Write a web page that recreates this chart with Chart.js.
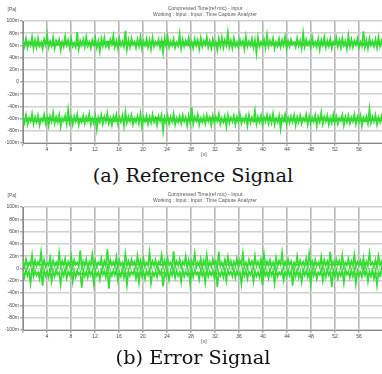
<!DOCTYPE html>
<html>
<head>
<meta charset="utf-8">
<script src="https://cdn.jsdelivr.net/npm/chart.js@4/dist/chart.umd.min.js"></script>
<style>
  html, body { margin:0; padding:0; background:#fff; width:382px; height:374px; overflow:hidden; position:relative; }
  canvas { position:absolute; left:0; filter: blur(0.3px); }
  #c1 { top:0; }
  #c2 { top:186px; }
  .cap { position:absolute; left:2px; width:382px; text-align:center; font-family:"DejaVu Serif", serif; font-size:19.3px; color:#111; line-height:24px; }
  #capA { top:164px; }
  #capB { top:346px; }
</style>
</head>
<body>
<canvas id="c1" width="390" height="160"></canvas>
<div class="cap" id="capA">(a) Reference Signal</div>
<canvas id="c2" width="390" height="161"></canvas>
<div class="cap" id="capB">(b) Error Signal</div>
<script>
// ---- data (mPa), time axis 0..60 s ----
const DURATION = 60;
const xTicksStep = 4;
const yTicksStep = 20;
const titleLines = ["Compressed Time(ref mic) - Input", "Working : Input : Input : Time Capture Analyzer"];

const refUpper = [
68,58,71,56,66,60,74,55,69,57,72,59,65,54,70,61,78,57,67,59,
73,55,68,62,70,52,66,58,75,60,69,56,71,58,64,57,82,54,68,60,
70,57,74,59,66,55,69,61,72,56,67,50,71,59,73,58,65,56,70,62,
76,57,68,55,71,60,67,58,84,53,69,57,72,61,66,56,70,59,74,55,
67,60,71,57,69,54,73,58,66,61,70,56,68,48,72,59,75,57,67,60,
71,56,65,59,79,55,70,58,68,62,73,57,66,55,71,60,69,54,72,58,
68,61,74,57,67,55,70,59,66,52,71,58,73,56,69,60,81,57,68,55,
72,59,66,57,70,61,68,54,75,58,67,60,71,56,69,47,73,58,66,59,
70,56,77,58,68,61,72,55,66,59,71,57,69,60,74,54,67,58,70,62,
65,57,72,59,68,55,80,58,70,61,67,56,73,59,66,57,71,53,69,60,
74,57,68,59,71,55,66,62,73,58,69,56,72,60,67,54,76,58,70,57,
68,61,71,56,66,59,83,57,69,55,72,60,67,58,70,56,74,59,68,62];

const refLower = [
-56,-67,-54,-70,-59,-65,-52,-69,-57,-66,-55,-71,-60,-64,-53,-68,-58,-72,-56,-65,
-50,-68,-57,-66,-54,-73,-59,-64,-55,-69,-45,-67,-58,-70,-56,-65,-53,-71,-60,-66,
-55,-68,-57,-64,-52,-70,-59,-67,-56,-78,-58,-66,-54,-69,-57,-65,-51,-68,-59,-71,
-56,-64,-53,-69,-58,-66,-55,-72,-49,-67,-57,-65,-54,-70,-60,-66,-56,-68,-52,-73,
-58,-65,-55,-69,-57,-67,-53,-66,-59,-71,-56,-64,-54,-80,-58,-67,-55,-69,-57,-65,
-52,-70,-59,-66,-56,-68,-54,-65,-58,-72,-55,-67,-41,-69,-57,-64,-53,-70,-59,-66,
-56,-68,-54,-65,-58,-71,-55,-67,-57,-64,-52,-69,-59,-66,-56,-73,-54,-67,-58,-65,
-55,-70,-57,-66,-53,-68,-59,-65,-56,-72,-54,-67,-58,-64,-47,-69,-57,-66,-55,-71,
-58,-65,-54,-68,-56,-67,-52,-70,-59,-66,-55,-77,-57,-64,-53,-69,-58,-67,-56,-65,
-54,-71,-57,-66,-55,-68,-59,-64,-53,-70,-56,-67,-58,-65,-54,-72,-57,-66,-50,-69,
-57,-65,-55,-70,-58,-67,-53,-66,-56,-69,-59,-64,-54,-71,-57,-66,-55,-68,-58,-65,
-53,-69,-57,-66,-55,-72,-58,-64,-56,-68,-44,-67,-57,-65,-54,-70,-58,-66,-56,-68];

const errUpper = [
12,3,15,2,10,5,22,1,13,4,11,6,27,2,14,3,9,5,18,1,
13,4,10,2,25,3,12,5,16,1,11,4,20,2,14,6,10,3,29,2,
12,4,15,1,11,5,23,3,13,2,10,6,17,1,12,4,31,2,14,5,
11,3,19,2,13,5,10,1,24,4,12,3,15,6,11,2,21,4,13,1,
16,3,10,5,26,2,12,4,14,1,11,6,22,3,13,2,17,5,10,1,
28,3,12,4,15,2,11,6,20,1,14,3,12,5,24,2,10,4,16,1,
13,5,22,2,11,3,15,6,12,1,27,4,10,2,14,5,19,3,12,1,
11,4,16,2,13,6,25,3,10,1,14,5,12,2,21,4,11,3,15,1,
23,2,12,5,14,3,10,1,18,4,13,6,26,2,11,3,15,5,12,1,
10,4,20,2,13,5,11,3,16,1,24,6,12,2,14,4,10,3,19,1,
14,5,12,2,27,3,11,4,15,6,13,1,21,3,10,5,16,2,12,4,
22,3,11,5,13,2,17,1,12,4,25,6,10,3,14,2,20,5,11,1];

const errLower = [
-3,-14,-2,-12,-5,-24,-1,-13,-4,-11,-6,-17,-2,-28,-3,-12,-5,-15,-1,-21,
-4,-13,-2,-10,-6,-26,-3,-12,-1,-16,-5,-11,-2,-22,-4,-14,-3,-10,-6,-31,
-2,-13,-5,-15,-1,-11,-4,-25,-3,-12,-6,-18,-2,-10,-4,-14,-1,-33,-5,-12,
-3,-11,-2,-20,-6,-13,-1,-15,-4,-27,-3,-12,-5,-10,-2,-16,-4,-23,-1,-13,
-5,-17,-3,-11,-2,-24,-6,-12,-4,-14,-1,-10,-3,-29,-5,-13,-2,-19,-4,-11,
-1,-15,-3,-12,-6,-22,-2,-13,-5,-11,-4,-26,-1,-14,-3,-10,-6,-18,-2,-12,
-4,-23,-1,-13,-5,-11,-3,-16,-2,-30,-6,-12,-4,-14,-1,-20,-3,-10,-5,-13,
-2,-15,-4,-11,-6,-25,-1,-12,-3,-17,-5,-10,-2,-21,-4,-13,-6,-14,-1,-27,
-3,-12,-5,-16,-2,-11,-4,-24,-1,-13,-6,-10,-3,-19,-5,-14,-2,-12,-4,-28,
-1,-13,-3,-15,-6,-22,-2,-11,-4,-14,-5,-26,-1,-12,-3,-17,-6,-10,-2,-20,
-4,-14,-1,-11,-5,-30,-3,-13,-2,-16,-6,-12,-4,-23,-1,-10,-5,-15,-3,-13,
-2,-25,-4,-12,-6,-14,-1,-11,-3,-21,-5,-13,-2,-16,-4,-27,-6,-12,-1,-15];

const refUpperCore = [63,64,62,63,65,62,63,64,63,62,64,63,62,63,65,63,62,64,63,63,62,64,63,65,62,63,64,62,63,63,64,62,63,65,63,62,64,63,62,63,64,63,62,65,63,64,62,63,63,64,62,63,65,62,64,63,62,63,64,63];
const refLowerCore = [-62,-61,-63,-62,-60,-62,-63,-61,-62,-62,-63,-61,-62,-60,-62,-63,-61,-62,-62,-61,-63,-62,-60,-62,-61,-63,-62,-62,-61,-63,-62,-60,-62,-63,-61,-62,-62,-61,-63,-62,-60,-62,-61,-63,-62,-62,-61,-63,-62,-60,-62,-63,-61,-62,-62,-61,-63,-62,-61,-62];
const errUpperCore = [7,8,7,6,7,8,7,7,6,8,7,7,8,6,7,7,8,7,6,7,8,7,7,6,8,7,7,8,7,6,7,8,7,7,6,8,7,7,8,7,6,7,8,7,7,6,8,7,7,8,7,6,7,7,8,7,6,8,7,7];
const errLowerCore = [-8,-9,-8,-7,-8,-9,-8,-8,-7,-9,-8,-8,-9,-7,-8,-8,-9,-8,-7,-8,-9,-8,-8,-7,-9,-8,-8,-9,-8,-7,-8,-9,-8,-8,-7,-9,-8,-8,-9,-8,-7,-8,-9,-8,-8,-7,-9,-8,-8,-9,-8,-7,-8,-8,-9,-8,-7,-9,-8,-8];

// sample index -> time in seconds
function toPoints(arr) {
  const n = arr.length;
  return arr.map((v, i) => ({ x: i * DURATION / (n - 1), y: v }));
}

const GREEN = 'rgb(50,222,50)';
const labelsPlugin = {
  id: 'panelLabels',
  afterDraw(chart) {
    const ctx = chart.ctx, a = chart.chartArea;
    ctx.save();
    ctx.fillStyle = '#555';
    ctx.font = '5px "Liberation Sans", Arial, sans-serif';
    ctx.textAlign = 'center';
    ctx.textBaseline = 'middle';
    const cx = (a.left + a.right) / 2 + 2;
    ctx.fillText(titleLines[0], cx, a.top - 12);
    ctx.fillText(titleLines[1], cx, a.top - 6);
    ctx.fillText('[Pa]', 12, a.top - 11);
    ctx.fillText('[s]', 204, a.bottom + 12);
    ctx.restore();
  }
};

function makePanel(id, bands, cores, coreColor, coreWidth, xAxisHeight) {
  const datasets = [];
  bands.forEach(b => datasets.push({ data: toPoints(b), borderColor: GREEN, borderWidth: 1.7, pointRadius: 0, tension: 0 }));
  cores.forEach(c => datasets.push({ data: toPoints(c), borderColor: coreColor, borderWidth: coreWidth, pointRadius: 0, tension: 0 }));
  new Chart(document.getElementById(id), {
    type: 'line',
    data: { datasets },
    options: {
      responsive: false,
      animation: false,
      devicePixelRatio: 1,
      layout: { padding: { top: 21, right: 7, left: 0, bottom: 0 } },
      plugins: { legend: { display: false }, tooltip: { enabled: false }, title: { display: false } },
      scales: {
        x: {
          type: 'linear', min: 0, max: DURATION,
          ticks: { stepSize: xTicksStep, autoSkip: false, maxRotation: 0, padding: 1, color: '#444',
                   font: { size: 5, family: '"Liberation Sans", Arial, sans-serif' },
                   callback: v => (v > 0 && v < DURATION) ? String(v) : '' },
          grid: { color: '#b4b4b4', lineWidth: 1.6, tickLength: 3, tickColor: '#888', tickWidth: 1 },
          border: { color: '#888', width: 1 },
          afterFit: s => { s.height = xAxisHeight; }
        },
        y: {
          min: -100, max: 100,
          ticks: { stepSize: yTicksStep, padding: 1, color: '#444',
                   font: { size: 5, family: '"Liberation Sans", Arial, sans-serif' },
                   callback: v => v === 0 ? '0' : v + 'm' },
          grid: { color: '#d0d0d0', lineWidth: 1.6, tickLength: 3, tickColor: '#888', tickWidth: 1 },
          border: { color: '#888', width: 1 },
          afterFit: s => { s.width = 23; }
        }
      }
    },
    plugins: [labelsPlugin]
  });
}

makePanel('c1', [refUpper, refLower], [refUpperCore, refLowerCore], 'rgb(70,175,40)', 3, 17);
makePanel('c2', [errUpper, errLower], [errUpperCore, errLowerCore], 'rgb(185,115,50)', 1.3, 17);
</script>
</body>
</html>
